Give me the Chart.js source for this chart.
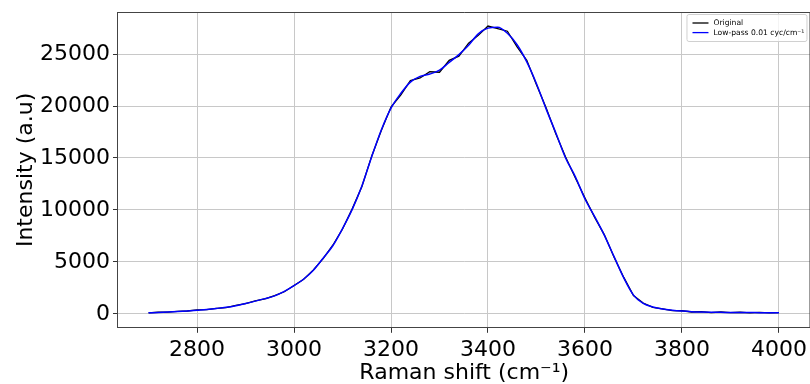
<!DOCTYPE html>
<html>
<head>
<meta charset="utf-8">
<script src="https://cdn.jsdelivr.net/npm/chart.js@4/dist/chart.umd.min.js"></script>
<style>
    html, body { margin: 0; padding: 0; background: #fff; overflow: hidden; }
    #wrap { width: 812px; height: 384px; }
</style>
</head>
<body>
<div id="wrap"><canvas id="grafico" width="812" height="384"></canvas></div>
<script>
// Raman shift (cm-1)
const ramanShift = [
    2700, 2720, 2740, 2760, 2780, 2800, 2820, 2840, 2860, 2880,
    2900, 2920, 2940, 2960, 2980, 3000, 3020, 3040, 3060, 3080,
    3100, 3120, 3140, 3160, 3180, 3200, 3220, 3240, 3260, 3280,
    3300, 3320, 3340, 3360, 3380, 3400, 3420, 3440, 3460, 3480,
    3500, 3520, 3540, 3560, 3580, 3600, 3620, 3640, 3660, 3680,
    3700, 3720, 3740, 3760, 3780, 3800, 3820, 3840, 3860, 3880,
    3900, 3920, 3940, 3960, 3980, 4000
];

const original = [
    80, 150, 160, 240, 270, 370, 400, 530, 600, 800,
    970, 1250, 1430, 1750, 2120, 2730, 3320, 4230, 5310, 6600,
    8160, 10100, 12250, 15150, 17650, 19900, 21050, 22450, 22700, 23300,
    23250, 24400, 24800, 26050, 26800, 27700, 27450, 27200, 25700, 24400,
    22050, 19800, 17300, 15100, 13100, 11150, 9280, 7600, 5450, 3500,
    1760, 1040, 620, 480, 310, 290, 170, 200, 120, 170,
    110, 150, 90, 140, 80, 120
];

const lowPass = [
    100, 130, 170, 220, 280, 350, 420, 510, 620, 780,
    990, 1220, 1460, 1720, 2150, 2700, 3350, 4200, 5350, 6550,
    8200, 10050, 12300, 15100, 17700, 19800, 21200, 22300, 22850, 23080,
    23450, 24200, 24950, 25850, 26950, 27500, 27580, 27000, 25900, 24250,
    22150, 19700, 17400, 15000, 13200, 11050, 9350, 7550, 5500, 3450,
    1800, 1000, 650, 450, 340, 260, 200, 170, 150, 140,
    130, 120, 115, 110, 105, 100
];

const xTicks = [2800, 3000, 3200, 3400, 3600, 3800, 4000];
const yTicks = [0, 5000, 10000, 15000, 20000, 25000];

const nombres = ['Original', 'Low-pass 0.01 cyc/cm\u207B\u00B9'];
const colores = ['#000000', '#0000ff'];

const fuente = "'DejaVu Sans', sans-serif";

// marco completo (arriba y derecha) y leyenda estilo matplotlib
const marcoYLeyenda = {
    id: 'marcoYLeyenda',
    afterDraw(chart) {
        const c = chart.ctx;
        const a = chart.chartArea;
        c.save();
        c.strokeStyle = '#444';
        c.lineWidth = 1;
        c.beginPath();
        c.moveTo(a.left, a.top + 0.5);
        c.lineTo(a.right, a.top + 0.5);
        c.moveTo(a.right - 0.5, a.top);
        c.lineTo(a.right - 0.5, a.bottom);
        c.stroke();

        const bx = a.right - 124, by = a.top + 2, bw = 120, bh = 27;
        c.fillStyle = 'rgba(255,255,255,0.8)';
        c.strokeStyle = '#d0d0d0';
        c.lineWidth = 1;
        c.beginPath();
        c.roundRect(bx + 0.5, by + 0.5, bw, bh, 2);
        c.fill();
        c.stroke();

        c.font = '7.6px ' + fuente;
        c.textBaseline = 'middle';
        nombres.forEach((n, i) => {
            const y = by + 9 + i * 9.6;
            c.strokeStyle = colores[i];
            c.lineWidth = 1.3;
            c.beginPath();
            c.moveTo(bx + 6, y);
            c.lineTo(bx + 22, y);
            c.stroke();
            c.fillStyle = '#000';
            c.fillText(n, bx + 27, y);
        });
        c.restore();
    }
};

const ctx = document.getElementById('grafico').getContext('2d');

new Chart(ctx, {
    type: 'line',
    data: {
        datasets: [
            {
                label: nombres[0],
                data: ramanShift.map((x, i) => ({x: x, y: original[i]})),
                borderColor: colores[0],
                borderWidth: 1.3,
                pointRadius: 0,
                order: 2
            },
            {
                label: nombres[1],
                data: ramanShift.map((x, i) => ({x: x, y: lowPass[i]})),
                borderColor: colores[1],
                borderWidth: 1.5,
                pointRadius: 0,
                cubicInterpolationMode: 'monotone',
                order: 1
            }
        ]
    },
    options: {
        responsive: false,
        animation: false,
        layout: { padding: { top: 12, left: 15, right: 1, bottom: 0 } },
        plugins: { legend: { display: false }, tooltip: { enabled: false } },
        scales: {
            x: {
                type: 'linear',
                min: 2637,
                max: 4065,
                afterBuildTicks: s => { s.ticks = xTicks.map(v => ({value: v})); },
                grid: { color: '#c8c8c8', lineWidth: 1, tickLength: 5, tickColor: '#333' },
                border: { color: '#444', width: 1 },
                ticks: {
                    color: '#000',
                    padding: 5,
                    maxRotation: 0,
                    autoSkip: false,
                    font: { family: fuente, size: 22, lineHeight: 1.1 },
                    callback: v => String(v)
                },
                title: {
                    display: true,
                    text: 'Raman shift (cm\u207B\u00B9)',
                    color: '#000',
                    font: { family: fuente, size: 22, lineHeight: 0.545 },
                    padding: { top: 0, bottom: 5 }
                }
            },
            y: {
                type: 'linear',
                min: -1350,
                max: 29050,
                afterBuildTicks: s => { s.ticks = yTicks.map(v => ({value: v})); },
                grid: { color: '#c8c8c8', lineWidth: 1, tickLength: 5, tickColor: '#333' },
                border: { color: '#444', width: 1 },
                ticks: {
                    color: '#000',
                    padding: 3,
                    font: { family: fuente, size: 22, lineHeight: 0.8 },
                    callback: v => String(v)
                },
                title: {
                    display: true,
                    text: 'Intensity (a.u)',
                    color: '#000',
                    font: { family: fuente, size: 22, lineHeight: 1.0 },
                    padding: { top: 0, bottom: 0 }
                }
            }
        }
    },
    plugins: [marcoYLeyenda]
});
</script>
</body>
</html>
